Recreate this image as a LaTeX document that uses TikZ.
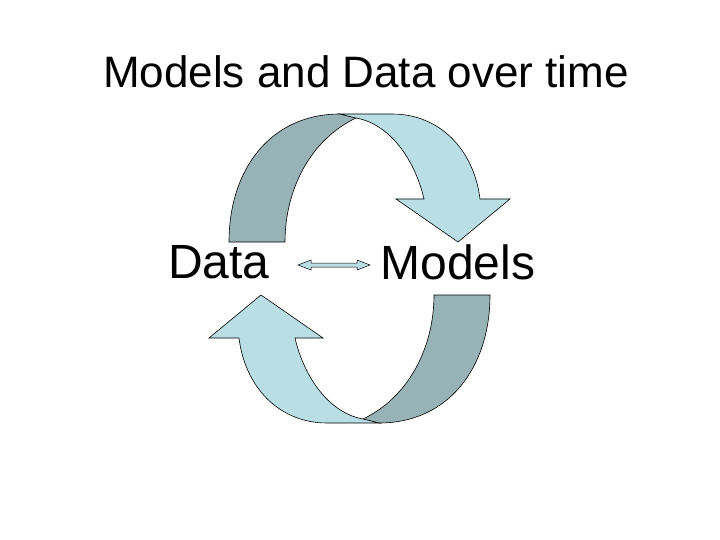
\documentclass[tikz,border=0pt]{standalone}
\usepackage{fontspec}
\setmainfont{Liberation Sans}
\begin{document}
\begin{tikzpicture}[x=1pt,y=-1pt]
\definecolor{darkc}{HTML}{97B3B6}
\definecolor{lightc}{HTML}{B9DFE4}
\tikzset{dk/.style={fill=darkc,draw=black,line width=0.6pt,line join=miter},
 lt/.style={fill=lightc,draw=black,line width=0.6pt,line join=miter},
 lbl/.style={inner sep=0pt,anchor=center}}
\useasboundingbox (0,0) rectangle (720,540);
\node[lbl,font=\fontsize{44}{48}\selectfont] (title) at (366,72) {Models and Data over time};
\node[lbl,font=\fontsize{48}{52}\selectfont] (data) at (219,262) {Data};
\node[lbl,font=\fontsize{48}{52}\selectfont] (models) at (458,262) {Models};
\foreach \r in {0,180}{
\begin{scope}[rotate around={\r:(359.5,268.5)}]
\path[dk] (229,242) .. controls (229,170) and (270,114) .. (340,114) -- (356,118)
  .. controls (310,140) and (285,190) .. (285,242) -- cycle;
\path[lt] (340,114) -- (392,114) .. controls (440,114) and (474,150) .. (480,199)
  -- (510,199) -- (458,242) -- (396,199) -- (424,199)
  .. controls (415,160) and (390,124) .. (356,118) -- cycle;
\end{scope}}
\coordinate (l) at (298,265);
\coordinate (r) at (370,265);
\path[lt,line width=0.5pt] (l) -- ++(13,-5) -- ++(0,3) -- ++(46,0) -- ++(0,-3) -- (r)
  -- ++(-13,5) -- ++(0,-3) -- ++(-46,0) -- ++(0,3) -- cycle;
\end{tikzpicture}
\end{document}
